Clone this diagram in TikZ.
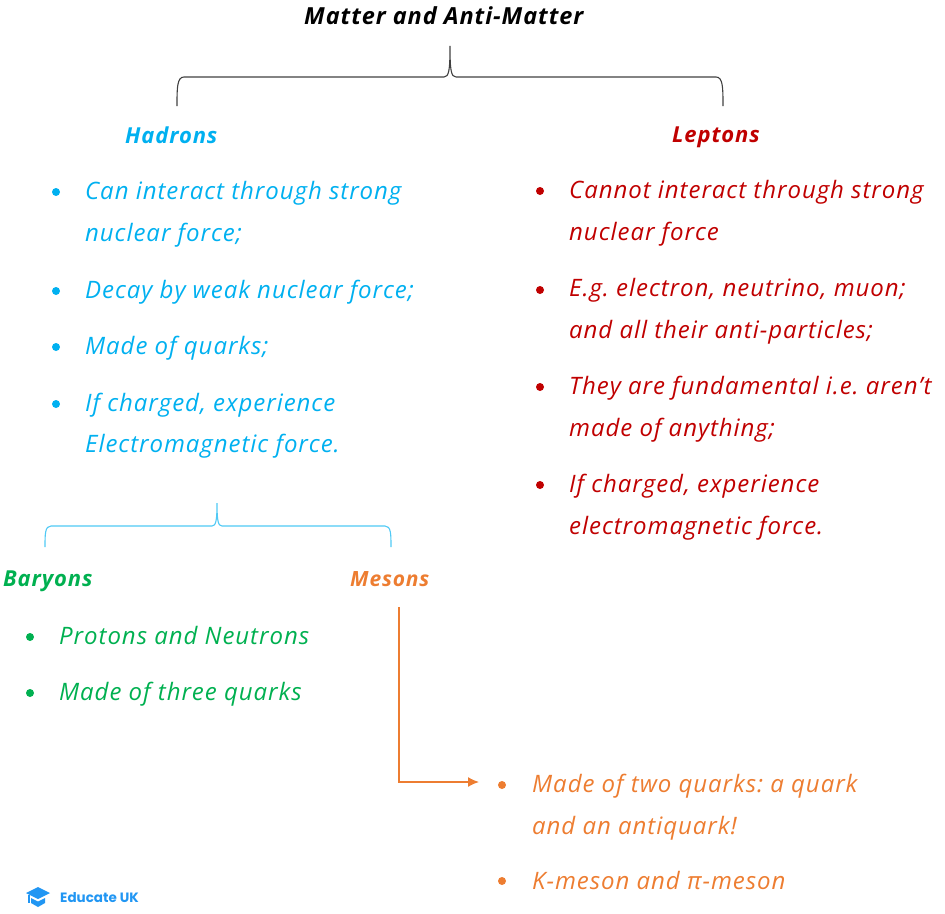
\documentclass[tikz,border=0pt]{standalone}
\usepackage{fontspec}
\setmainfont{Open Sans}[LetterSpace=4]
\newfontfamily\logofont{Poppins}
\usetikzlibrary{arrows.meta}
\definecolor{hadblue}{HTML}{00B0F0}
\definecolor{brblue}{HTML}{4FC9F5}
\definecolor{lepred}{HTML}{C00000}
\definecolor{bargreen}{HTML}{00B050}
\definecolor{mesorange}{HTML}{ED7D31}
\definecolor{logoblue}{HTML}{2196F3}
\definecolor{brgray}{HTML}{404040}
\tikzset{
    txt/.style={anchor=base west, inner sep=0pt, font=\fontsize{24}{28}\selectfont\itshape\frenchspacing},
    head/.style={anchor=base west, inner sep=0pt, font=\fontsize{22}{26}\selectfont\bfseries\itshape},
    dot/.style={circle, inner sep=0pt, minimum size=8pt, fill=#1},
    brace/.style={line width=1.1pt}}

\begin{document}
\begin{tikzpicture}[x=1pt,y=-1pt]
\useasboundingbox (0,0) rectangle (945,913);

\node[head,text=black,font=\fontsize{23.5}{26}\selectfont\itshape\bfseries] (title) at (304,24) {Matter and Anti-Matter};

% top brace
\coordinate (TopTip) at (450,46) ;
\coordinate (TopL) at (177,106) ;
\coordinate (TopR) at (723,106) ;
\draw [brace,brgray](TopL) .. controls (177,88) and (177,77) .. (184,77) -- (444,77)
  .. controls (449,77) and (450,70) .. (TopTip)
  .. controls (450,70) and (451,77) .. (456,77) -- (716,77)
  .. controls (723,77) and (723,88) .. (TopR);

\node[head,text=hadblue] (hadrons) at (125,143) {Hadrons};
\node[head,text=lepred] (leptons) at (672,142) {Leptons};

% hadrons list
\node[dot=hadblue] (hb1) at (56,192) {};
\node[dot=hadblue] (hb2) at (56,291) {};
\node[dot=hadblue] (hb3) at (56,347) {};
\node[dot=hadblue] (hb4) at (56,404) {};
\node[txt,text=hadblue] (h1) at (85,199) {Can interact through strong};
\node[txt,text=hadblue] (h1b) at (85,241) {nuclear force;};
\node[txt,text=hadblue] (h2) at (85,298) {Decay by weak nuclear force;};
\node[txt,text=hadblue] (h3) at (85,354) {Made of quarks;};
\node[txt,text=hadblue] (h4) at (85,411) {If charged, experience};
\node[txt,text=hadblue] (h4b) at (85,452) {Electromagnetic force.};

% leptons list
\node[dot=lepred] (lb1) at (540,191) {};
\node[dot=lepred] (lb2) at (540,290) {};
\node[dot=lepred] (lb3) at (540,387) {};
\node[dot=lepred] (lb4) at (540,485) {};
\node[txt,text=lepred] (l1) at (569,198) {Cannot interact through strong};
\node[txt,text=lepred] (l1b) at (569,240) {nuclear force};
\node[txt,text=lepred] (l2) at (569,296) {E.g. electron, neutrino, muon;};
\node[txt,text=lepred] (l2b) at (569,338) {and all their anti-particles;};
\node[txt,text=lepred] (l3) at (569,394) {They are fundamental i.e. aren't};
\node[txt,text=lepred] (l3b) at (569,436) {made of anything;};
\node[txt,text=lepred] (l4) at (569,492) {If charged, experience};
\node[txt,text=lepred] (l4b) at (569,534) {electromagnetic force.};

% lower brace
\coordinate (LowTip) at (217,503) ;
\coordinate (LowL) at (45,547) ;
\coordinate (LowR) at (391,547) ;
\draw [brace,brblue](LowL) .. controls (45,534) and (45,526) .. (51,526) -- (212,526)
  .. controls (216,526) and (217,520) .. (LowTip)
  .. controls (217,520) and (218,526) .. (222,526) -- (385,526)
  .. controls (391,526) and (391,534) .. (LowR);

\node[head,text=bargreen] (baryons) at (3,586) {Baryons};
\node[head,text=mesorange,font=\fontsize{21}{26}\selectfont\bfseries\itshape] (mesons) at (350,586) {Mesons};

% baryons list
\node[dot=bargreen] (bb1) at (30,637) {};
\node[dot=bargreen] (bb2) at (30,693) {};
\node[txt,text=bargreen] (b1) at (59,644) {Protons and Neutrons};
\node[txt,text=bargreen] (b2) at (59,700) {Made of three quarks};

% mesons list
\coordinate (MesOut) at (399,607) ;
\coordinate (MesIn) at (479,782) ;
\draw [-{Latex[length=11pt,width=10pt]},mesorange,line width=1.4pt](MesOut) |- (MesIn);
\node[dot=mesorange] (mb1) at (502,785) {};
\node[dot=mesorange] (mb2) at (502,881) {};
\node[txt,text=mesorange] (m1) at (532,792) {Made of two quarks: a quark};
\node[txt,text=mesorange] (m1b) at (532,834) {and an antiquark!};
\node[txt,text=mesorange] (m2) at (532,889) {K-meson and π-meson};

% logo
\fill[logoblue] (38,887) -- (50,893) -- (38,899) -- (26,893) -- cycle;
\fill[logoblue] (31,898) -- (38,901.5) -- (45,898) -- (45,903) -- (38,907) -- (31,903) -- cycle;
\fill[logoblue] (28,895) rectangle (29.5,903);
\node[anchor=base west,inner sep=0pt,text=logoblue,font=\logofont\bfseries\fontsize{13.5}{15}\selectfont] (logo) at (60,902) {Educate UK};
\end{tikzpicture}
\end{document}
